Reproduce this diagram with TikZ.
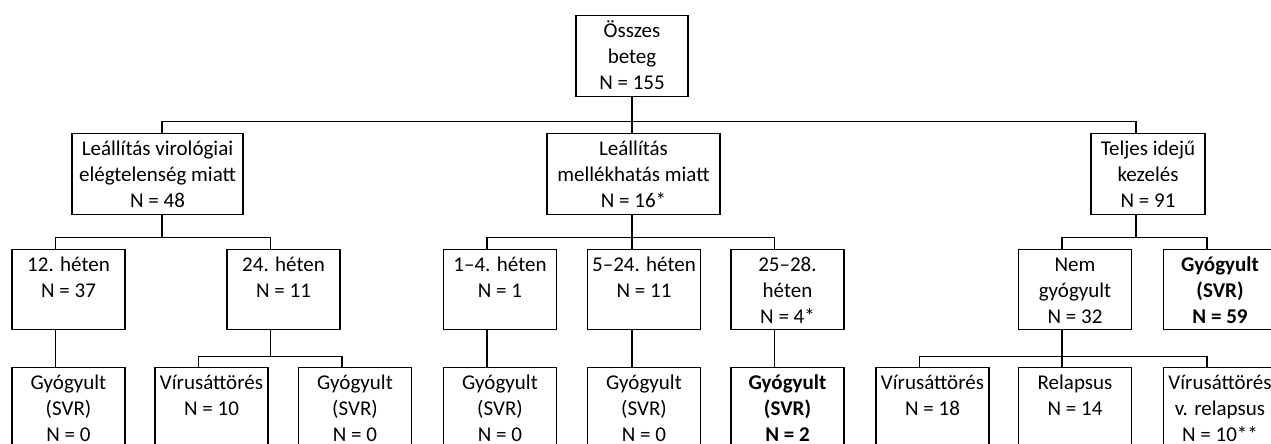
\documentclass[tikz,border=0pt]{standalone}
\usepackage{fontspec}
\setmainfont{Carlito}
\usepackage{tikz}

\tikzset{
  cell/.style={draw, anchor=north, inner sep=0pt, font=\fontsize{21pt}{26pt}\selectfont},
}
\newcommand{\celltext}[3]{\parbox[c][#2][t]{#1}{\centering\rule{0pt}{22pt}#3}}

\begin{document}
\begin{tikzpicture}[x=1pt, y=-1pt, line width=1.2pt]
  \useasboundingbox (0,0) rectangle (1271,444);
  \clip (0,0) rectangle (1271,444);

  % root
  \node[cell] (top) at (632,15) {\celltext{112pt}{81pt}{Összes\\beteg\\N = 155}};

  % second row
  \node[cell] (vir) at (157.5,133) {\celltext{171pt}{81pt}{Leállítás virológiai\\elégtelenség miatt\\N = 48}};
  \node[cell] (mell) at (633.5,133) {\celltext{173pt}{81pt}{Leállítás\\mellékhatás miatt\\N = 16*}};
  \node[cell] (telj) at (1148,133) {\celltext{114pt}{81pt}{Teljes idejű\\kezelés\\N = 91}};

  % third row
  \node[cell] (h12) at (68.5,249) {\celltext{113pt}{80pt}{12. héten\\N = 37}};
  \node[cell] (h24) at (283.5,249) {\celltext{113pt}{80pt}{24. héten\\N = 11}};
  \node[cell] (h14) at (500,249) {\celltext{113pt}{80pt}{1–4. héten\\N = 1}};
  \node[cell] (h524) at (644,249) {\celltext{113pt}{80pt}{5–24. héten\\N = 11}};
  \node[cell] (h2528) at (787.5,249) {\celltext{113pt}{80pt}{25–28.\\héten\\N = 4*}};
  \node[cell] (nem) at (1075,249) {\celltext{113pt}{80pt}{Nem\\gyógyult\\N = 32}};
  \node[cell] (gy59) at (1220,249) {\celltext{113pt}{80pt}{\bfseries Gyógyult\\(SVR)\\N = 59}};

  % bottom row (runs off the page)
  \node[cell] (gy0a) at (68.5,367) {\celltext{113pt}{100pt}{Gyógyult\\(SVR)\\N = 0}};
  \node[cell] (vir10) at (211.5,367) {\celltext{113pt}{100pt}{Vírusáttörés\\N = 10}};
  \node[cell] (gy0b) at (355,367) {\celltext{113pt}{100pt}{Gyógyult\\(SVR)\\N = 0}};
  \node[cell] (gy0c) at (500,367) {\celltext{113pt}{100pt}{Gyógyult\\(SVR)\\N = 0}};
  \node[cell] (gy0d) at (644,367) {\celltext{113pt}{100pt}{Gyógyult\\(SVR)\\N = 0}};
  \node[cell] (gy2) at (787.5,367) {\celltext{113pt}{100pt}{\bfseries Gyógyult\\(SVR)\\N = 2}};
  \node[cell] (vir18) at (932.5,367) {\celltext{113pt}{100pt}{Vírusáttörés\\N = 18}};
  \node[cell] (rel) at (1075,367) {\celltext{113pt}{100pt}{Relapsus\\N = 14}};
  \node[cell] (virrel) at (1220,367) {\celltext{113pt}{100pt}{Vírusáttörés\\v. relapsus\\N = 10**}};

  % root to second row
  \draw (top.south) -- ++(0,24) coordinate (j0);
  \draw (j0) -| ([xshift=4.5pt]vir.north);
  \draw (j0) -| ([xshift=-1.5pt]mell.north);
  \draw (j0) -| ([xshift=-12pt]telj.north);

  % virologic failure
  \draw ([xshift=4.5pt]vir.south) -- ++(0,22) coordinate (j1);
  \draw (j1) -| ([xshift=-13pt]h12.north);
  \draw (j1) -| ([xshift=-13pt]h24.north);
  \draw ([xshift=-13pt]h12.south) -- ([xshift=-13pt]gy0a.north);
  \draw ([xshift=-13pt]h24.south) -- ++(0,26) coordinate (j2);
  \draw (j2) -| ([xshift=-13pt]vir10.north);
  \draw (j2) -| ([xshift=-13pt]gy0b.north);

  % side effects
  \draw ([xshift=-1.5pt]mell.south) -- ++(0,22) coordinate (j3);
  \draw (j3) -| ([xshift=-13pt]h14.north);
  \draw (j3) -| ([xshift=-12pt]h524.north);
  \draw (j3) -| ([xshift=-13pt]h2528.north);
  \draw ([xshift=-13pt]h14.south) -- ([xshift=-13pt]gy0c.north);
  \draw ([xshift=-12pt]h524.south) -- ([xshift=-12pt]gy0d.north);
  \draw ([xshift=-13pt]h2528.south) -- ([xshift=-13pt]gy2.north);

  % full treatment
  \draw ([xshift=-12pt]telj.south) -- ++(0,22) coordinate (j4);
  \draw (j4) -| ([xshift=-13pt]nem.north);
  \draw (j4) -| ([xshift=-13pt]gy59.north);
  \draw ([xshift=-13pt]nem.south) -- ++(0,26) coordinate (j5);
  \draw (j5) -| ([xshift=-13pt]vir18.north);
  \draw (j5) -- ([xshift=-13pt]rel.north);
  \draw (j5) -| ([xshift=-13pt]virrel.north);
\end{tikzpicture}
\end{document}
